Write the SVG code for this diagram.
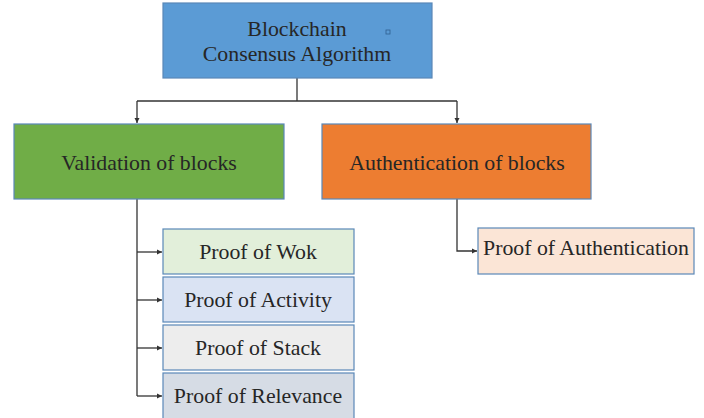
<svg xmlns="http://www.w3.org/2000/svg" width="704" height="418" viewBox="0 0 704 418">
<defs>
<style>
.box{stroke:#5a88b8;stroke-width:1.2}
.t{font-family:'Liberation Serif','Times New Roman',serif;font-size:21.8px;fill:#262626;text-anchor:middle}
.c{fill:none;stroke:#333;stroke-width:1.3}
</style>
<marker id="a" markerWidth="6" markerHeight="6" refX="5" refY="3" orient="auto" markerUnits="userSpaceOnUse">
<path d="M0,0.5 L5,3 L0,5.5 Z" fill="#333"/>
</marker>
</defs>
<rect width="704" height="418" fill="#fff"/>
<g id="connectors">
<path class="c" d="M297,78 V101"/>
<path class="c" d="M137,101 H457"/>
<path class="c" d="M137,101 V123" marker-end="url(#a)"/>
<path class="c" d="M457,101 V123" marker-end="url(#a)"/>
<path class="c" d="M137,199 V396"/>
<path class="c" d="M137,252 H162" marker-end="url(#a)"/>
<path class="c" d="M137,300 H162" marker-end="url(#a)"/>
<path class="c" d="M137,348 H162" marker-end="url(#a)"/>
<path class="c" d="M137,396 H162" marker-end="url(#a)"/>
<path class="c" d="M457,199 V251 H477" marker-end="url(#a)"/>
</g>
<g id="root">
<rect class="box" x="163" y="3" width="269" height="75" fill="#5b9bd5"/>
<text class="t" x="297" y="36">Blockchain</text>
<text class="t" x="297" y="61">Consensus Algorithm</text>
<rect x="386" y="30" width="4" height="4" fill="none" stroke="#2f5f8f" stroke-width="0.8"/>
</g>
<g id="validation">
<rect class="box" x="14" y="124" width="270" height="75" fill="#70ad47"/>
<text class="t" x="149" y="170">Validation of blocks</text>
</g>
<g id="authentication">
<rect class="box" x="322" y="124" width="269" height="75" fill="#ed7d31"/>
<text class="t" x="457" y="170">Authentication of blocks</text>
</g>
<g id="pow">
<rect class="box" x="163" y="229" width="191" height="45" fill="#e2efda"/>
<text class="t" x="258" y="259">Proof of Wok</text>
</g>
<g id="poa">
<rect class="box" x="163" y="277" width="191" height="45" fill="#dae3f3"/>
<text class="t" x="258" y="307">Proof of Activity</text>
</g>
<g id="pos">
<rect class="box" x="163" y="325" width="191" height="45" fill="#ededed"/>
<text class="t" x="258" y="355">Proof of Stack</text>
</g>
<g id="por">
<rect class="box" x="163" y="373" width="191" height="46" fill="#d6dce5"/>
<text class="t" x="258" y="403">Proof of Relevance</text>
</g>
<g id="pauth">
<rect class="box" x="478" y="228" width="216" height="46" fill="#fbe5d6"/>
<text class="t" x="586" y="255">Proof of Authentication</text>
</g>
</svg>
